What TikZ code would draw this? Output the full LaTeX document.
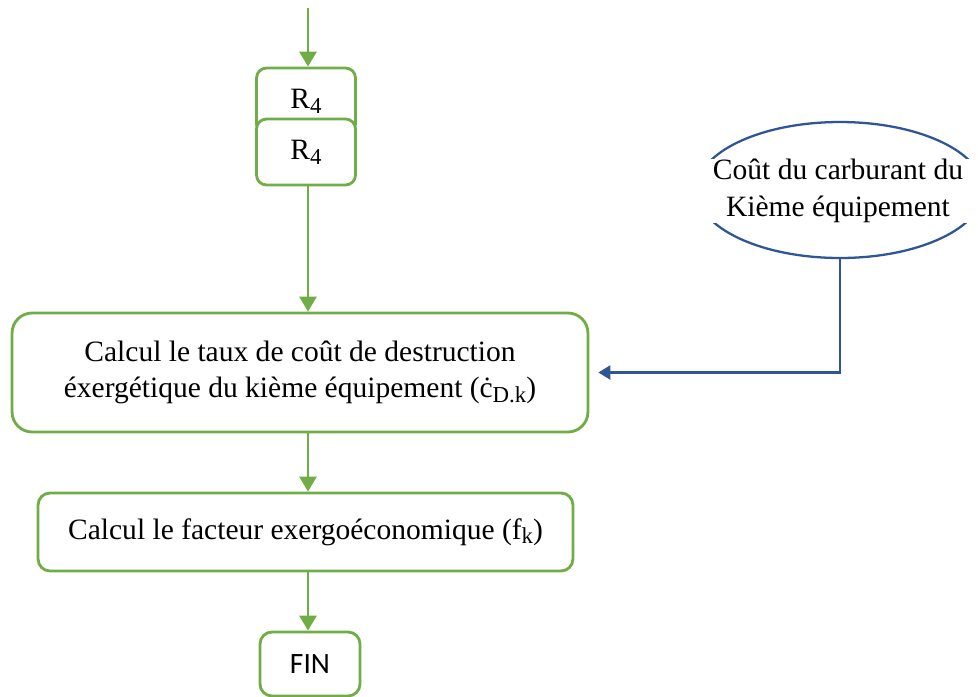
\documentclass[tikz,border=0pt]{standalone}
\usepackage{fontspec}
\setmainfont{Liberation Serif}
\newfontfamily\calfont{Carlito}
\usetikzlibrary{arrows.meta,shapes.geometric}
\definecolor{vert}{RGB}{112,173,71}
\definecolor{bleu}{RGB}{47,85,151}
\newcommand{\indice}[1]{\raisebox{-0.35ex}{\fontsize{13}{13}\selectfont #1}}

\begin{document}
\begin{tikzpicture}[x=0.02cm,y=-0.02cm,
    font=\fontsize{16.8}{19.5}\selectfont,
    box/.style={draw=vert,line width=1.6pt,fill=white,align=center,inner sep=0pt},
    garrow/.style={vert,line width=1.6pt,-{Triangle[width=0.34cm,length=0.3cm]}},
    barrow/.style={bleu,line width=1.3pt,-{Triangle[width=0.28cm,length=0.24cm]}}]
    \useasboundingbox (0,0) rectangle (978,697);

    \coordinate (0) at (308,8);
    \node [box,rounded corners=0.2cm,minimum width=1.98cm,minimum height=1.32cm] (1) at (306,101) {R\indice{4}};
    \node [box,rounded corners=0.2cm,minimum width=1.98cm,minimum height=1.32cm] (2) at (306,152) {R\indice{4}};

    \node [box,rounded corners=0.4cm,minimum width=11.52cm,minimum height=2.38cm] (3) at (300,372.5)
      {Calcul le taux de coût de destruction\\[0.05cm]éxergétique du kième équipement (ċ\indice{D.k})};
    \node [box,rounded corners=0.24cm,minimum width=10.7cm,minimum height=1.56cm] (4) at (305.5,532)
      {Calcul le facteur exergoéconomique (f\indice{k})};
    \node [box,rounded corners=0.24cm,minimum width=2cm,minimum height=1.28cm] (5) at (310,664) {\calfont FIN};

    \node [draw=bleu,line width=1.3pt,ellipse,minimum width=5.74cm,minimum height=2.72cm,inner sep=0pt] (6) at (840,190) {};
    \node [fill=white,align=center,inner sep=0pt,minimum width=5.9cm,minimum height=1.08cm] (7) at (838,191)
      {Coût du carburant du\\[0.05cm]Kième équipement};

    \draw[garrow] (0) -- (0 |- 1.north);
    \draw[garrow] (2.south -| 0) -- (0 |- 3.north);
    \draw[garrow] (3.south -| 0) -- (0 |- 4.north);
    \draw[garrow] (4.south -| 0) -- (0 |- 5.north);
    \draw[barrow,shorten >=0.18cm] (6.south) |- (3.east);

  \end{tikzpicture}
\end{document}
